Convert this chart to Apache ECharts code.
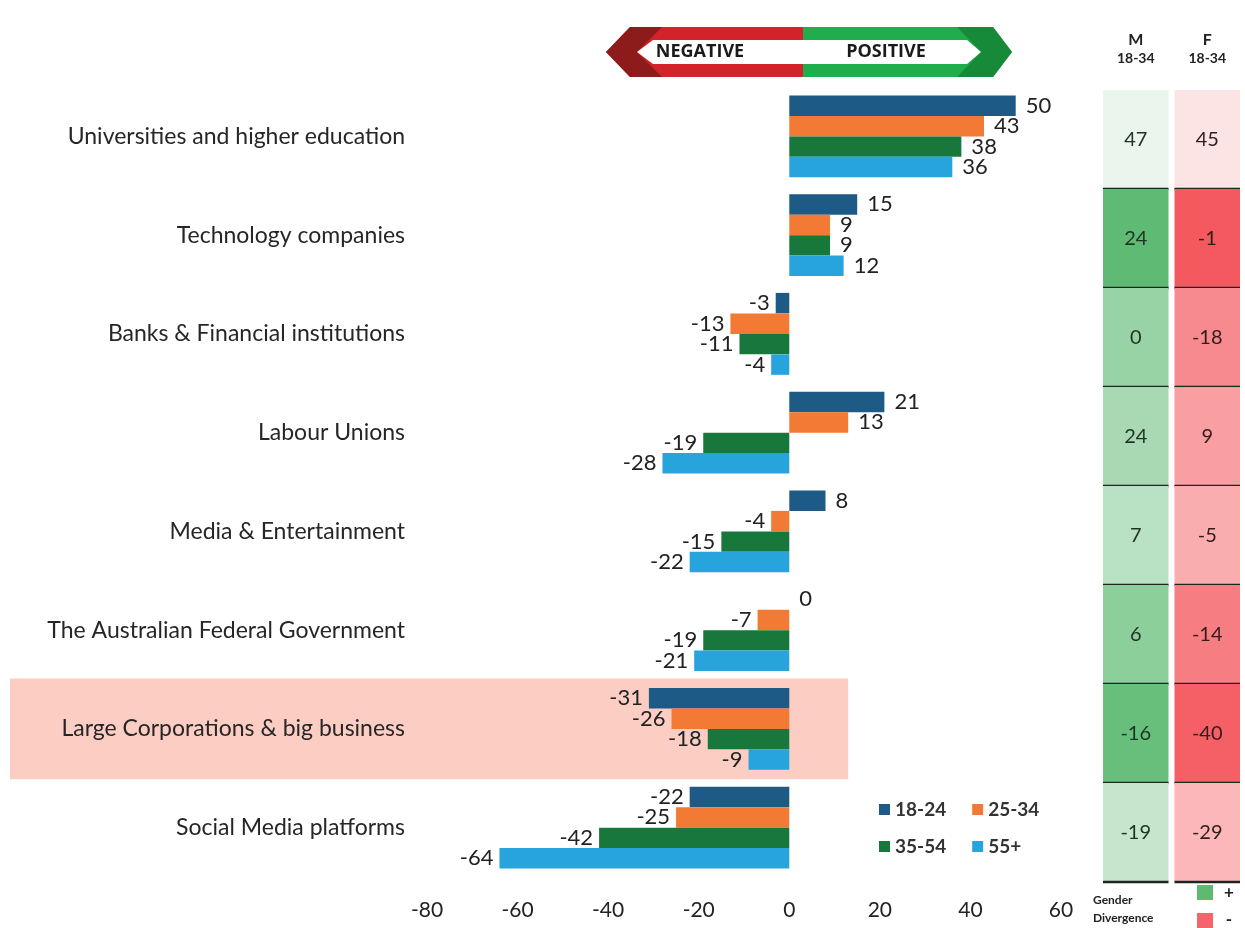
<!DOCTYPE html>
<html>
<head>
<meta charset="utf-8">
<script src="https://cdn.jsdelivr.net/npm/echarts@6/dist/echarts.min.js"></script>
<style>html,body{margin:0;padding:0;background:#fff}#c{width:1245px;height:928px}</style>
</head>
<body>
<div id="c"></div>
<script>
// ---- data ----
const categories = [
  'Universities and higher education',
  'Technology companies',
  'Banks & Financial institutions',
  'Labour Unions',
  'Media & Entertainment',
  'The Australian Federal Government',
  'Large Corporations & big business',
  'Social Media platforms'
];
const seriesNames = ['18-24', '25-34', '35-54', '55+'];
const age1824 = [50, 15, -3, 21, 8, 0, -31, -22];
const age2534 = [43, 9, -13, 13, -4, -7, -26, -25];
const age3554 = [38, 9, -11, -19, -15, -19, -18, -42];
const age55p  = [36, 12, -4, -28, -22, -21, -9, -64];
const male1834   = [47, 24, 0, 24, 7, 6, -16, -19];
const female1834 = [45, -1, -18, 9, -5, -14, -40, -29];
const tableHeaders = ['M', 'F'];
const tableSub = '18-34';
const xMin = -80, xMax = 60, xStep = 20;
const highlightCategory = 'Large Corporations & big business';
const highlightRightValue = 13;

// ---- styles ----
const seriesColors = ['#1d5a86', '#f27a34', '#18783b', '#28a4dc'];
const FONT = 'Lato';
const greenScale = ['#f3f9f5', '#dcefe1', '#c5e6cd', '#a8d9b3', '#8ccf9a', '#5fbb74'];
const redScale   = ['#fdeeee', '#fcd4d5', '#fbb7b9', '#f99ea1', '#f67d81', '#f3595f'];

const allSeriesValues = [age1824, age2534, age3554, age55p];
const barSeries = seriesNames.map((name, si) => ({
  name: name,
  type: 'bar',
  xAxisIndex: 0, yAxisIndex: 0,
  barGap: '0%',
  barCategoryGap: '17%',
  itemStyle: { color: seriesColors[si] },
  label: { show: true, fontSize: 22, color: '#222', fontFamily: FONT, formatter: '{c}' },
  data: allSeriesValues[si].map(v => ({ value: v, label: { position: v < 0 ? 'left' : 'right', distance: v < 0 ? 6 : 10 } }))
}));

function tableRender(textColor) {
  return function (params, api) {
    const p = api.coord([api.value(0), api.value(1)]);
    const s = api.size([1, 1]);
    const w = s[0], h = s[1];
    const x0 = p[0] - w / 2 + 3, y0 = p[1] - h / 2;
    return {
      type: 'group',
      children: [
        { type: 'rect', shape: { x: x0, y: y0, width: w - 6, height: h }, style: { fill: api.visual('color') } },
        { type: 'line', shape: { x1: x0, y1: y0 + h, x2: x0 + w - 6, y2: y0 + h }, style: { stroke: '#1c2620', lineWidth: 2.5 } },
        { type: 'text', style: { text: String(api.value(2)), x: p[0], y: p[1], align: 'center', verticalAlign: 'middle', fill: textColor, font: '20px ' + FONT } }
      ]
    };
  };
}
const maleData = categories.map((c, i) => [0, i, male1834[i], Math.abs(male1834[i] - female1834[i])]);
const femaleData = categories.map((c, i) => [1, i, female1834[i], Math.abs(male1834[i] - female1834[i])]);

const legendText = { fontSize: 19, fontWeight: 'bold', color: '#333', fontFamily: FONT };

const chart = echarts.init(document.getElementById('c'), null, { renderer: 'canvas' });
const option = {
  backgroundColor: '#fff',
  animation: false,
  grid: [
    { left: 427, right: 184, top: 87, bottom: 51 },
    { left: 1100, right: 2, top: 90, bottom: 46 }
  ],
  xAxis: [
    {
      type: 'value', gridIndex: 0, min: xMin, max: xMax, interval: xStep,
      axisLine: { show: false }, axisTick: { show: false }, splitLine: { show: false },
      axisLabel: { fontSize: 21, color: '#222', fontFamily: FONT, margin: 23 }
    },
    {
      type: 'category', gridIndex: 1, data: tableHeaders, position: 'top',
      axisLine: { show: false }, axisTick: { show: false },
      axisLabel: {
        margin: 22, formatter: v => '{m|' + v + '}\n{a|' + tableSub + '}',
        rich: {
          m: { fontSize: 16, fontWeight: 'bold', color: '#222', fontFamily: FONT, lineHeight: 19, align: 'center' },
          a: { fontSize: 14, fontWeight: 'bold', color: '#222', fontFamily: FONT, lineHeight: 19, align: 'center' }
        }
      }
    }
  ],
  yAxis: [
    {
      type: 'category', gridIndex: 0, data: categories, inverse: true,
      axisLine: { show: false }, axisTick: { show: false },
      axisLabel: { fontSize: 23, color: '#262626', fontFamily: FONT, margin: 22 }
    },
    {
      type: 'category', gridIndex: 1, data: categories, inverse: true,
      axisLine: { show: false }, axisTick: { show: false }, axisLabel: { show: false }
    }
  ],
  legend: [
    { data: seriesNames.slice(0, 2), left: 874, top: 795, icon: 'rect', itemWidth: 11, itemHeight: 11, itemGap: 26, textStyle: legendText, selectedMode: false },
    { data: seriesNames.slice(2, 4), left: 874, top: 832, icon: 'rect', itemWidth: 11, itemHeight: 11, itemGap: 26, textStyle: legendText, selectedMode: false }
  ],
  visualMap: [
    { type: 'continuous', show: false, seriesIndex: 4, dimension: 3, min: 0, max: 25, inRange: { color: greenScale } },
    { type: 'continuous', show: false, seriesIndex: 5, dimension: 3, min: 0, max: 25, inRange: { color: redScale } }
  ],
  series: barSeries.concat([
    { type: 'custom', name: 'M', xAxisIndex: 1, yAxisIndex: 1, renderItem: tableRender('#1e3326'), data: maleData, encode: { x: 0, y: 1 } },
    { type: 'custom', name: 'F', xAxisIndex: 1, yAxisIndex: 1, renderItem: tableRender('#331c1c'), data: femaleData, encode: { x: 0, y: 1 } }
  ]),
  graphic: [
    // banner
    { type: 'polygon', id: 'redBody', shape: { points: [[606, 52], [630, 27], [803, 27], [803, 77], [630, 77]] }, style: { fill: '#d2232a' } },
    { type: 'polygon', id: 'greenBody', shape: { points: [[803, 27], [993, 27], [1012, 52], [993, 77], [803, 77]] }, style: { fill: '#1fae4b' } },
    { type: 'polygon', id: 'redTip', shape: { points: [[606, 52], [630, 27], [662, 27], [637, 52], [662, 77], [630, 77]] }, style: { fill: '#8e1b1b' } },
    { type: 'polygon', id: 'greenTip', shape: { points: [[1012, 52], [993, 27], [957, 27], [981, 52], [957, 77], [993, 77]] }, style: { fill: '#178a3a' } },
    { type: 'polygon', id: 'inner', shape: { points: [[637, 52], [653, 40], [967, 40], [981, 52], [967, 64], [653, 64]] }, style: { fill: '#ffffff' } },
    { type: 'text', id: 'neg', style: { text: 'NEGATIVE', x: 700, y: 52, align: 'center', verticalAlign: 'middle', fill: '#1a1a1a', font: 'bold 18px "Open Sans"' } },
    { type: 'text', id: 'pos', style: { text: 'POSITIVE', x: 886, y: 52, align: 'center', verticalAlign: 'middle', fill: '#1a1a1a', font: 'bold 18px "Open Sans"' } },
    // gender divergence key
    { type: 'text', id: 'gd1', style: { text: 'Gender', x: 1093, y: 900, verticalAlign: 'middle', fill: '#222', font: 'bold 12px ' + FONT } },
    { type: 'text', id: 'gd2', style: { text: 'Divergence', x: 1093, y: 918, verticalAlign: 'middle', fill: '#222', font: 'bold 12px ' + FONT } },
    { type: 'rect', id: 'gdG', shape: { x: 1197, y: 885, width: 16, height: 15 }, style: { fill: '#5dbb70' } },
    { type: 'rect', id: 'gdR', shape: { x: 1197, y: 913, width: 16, height: 15 }, style: { fill: '#f4656b' } },
    { type: 'text', id: 'gdP', style: { text: '+', x: 1229, y: 893, align: 'center', verticalAlign: 'middle', fill: '#222', font: 'bold 17px ' + FONT } },
    { type: 'text', id: 'gdM', style: { text: '-', x: 1229, y: 920, align: 'center', verticalAlign: 'middle', fill: '#222', font: 'bold 17px ' + FONT } }
  ]
};
chart.setOption(option);

// highlight band behind the selected category
const cy = chart.convertToPixel({ yAxisIndex: 0 }, highlightCategory);
const xr = chart.convertToPixel({ xAxisIndex: 0 }, highlightRightValue);
const cy2 = chart.convertToPixel({ yAxisIndex: 0 }, categories[categories.indexOf(highlightCategory) + 1]);
const band = cy2 - cy;
chart.setOption({
  graphic: [{ type: 'rect', id: 'hl', z: -1, shape: { x: 10, y: cy - band / 2 - 1, width: xr - 10, height: band + 2 }, style: { fill: '#fccdc2' } }]
});
</script>
</body>
</html>
